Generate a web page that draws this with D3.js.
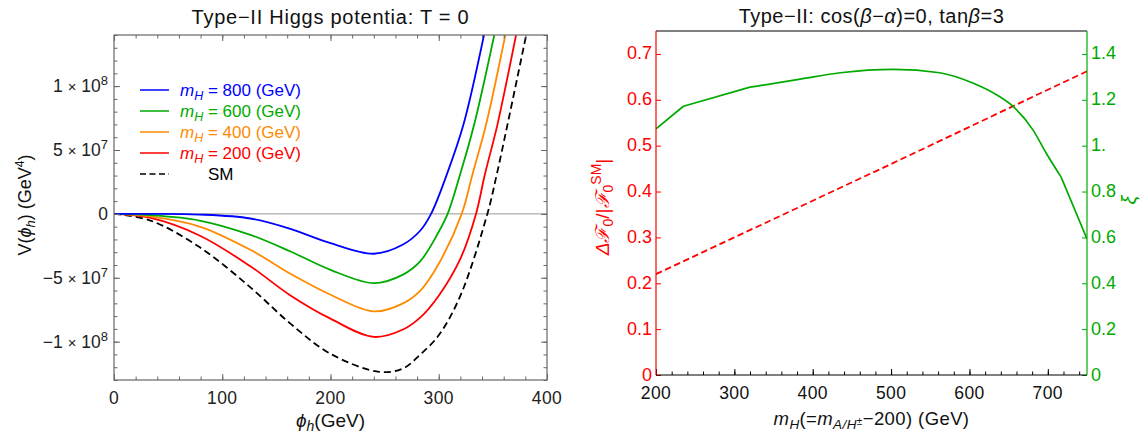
<!DOCTYPE html>
<meta charset="utf-8">
<style>
body { margin: 0; background: #fff; }
text { font-family: "Liberation Sans", Arial, sans-serif; }
.axis path { display: none; }
</style>
<svg id="chart" width="1148" height="434"></svg>
<script src="https://cdn.jsdelivr.net/npm/d3@7"></script>
<script>

// ---- left panel: V(phi_h), values in units of 1e7 GeV^4
var phiBlue   = [0, 33, 79, 126, 163, 200, 240, 267, 283, 292.9, 307.3, 322.7, 341.8];
var vBlue     = [0, 0, -0.05, -0.36, -1.17, -2.29, -3.12, -2.4, -1.3, 0, 3.05, 6.95, 14];
var phiGreen  = [0, 33, 79, 126, 163, 200, 240, 267, 283, 300, 308.2, 319.6, 332.6, 351.3];
var vGreen    = [0, -0.1, -0.52, -1.64, -2.94, -4.38, -5.42, -4.75, -3.7, -1.4, 0, 3.05, 6.95, 14];
var phiOrange = [0, 33, 79, 126, 163, 200, 240, 267, 283, 300, 321.2, 331, 343.6, 361.5];
var vOrange   = [0, -0.2, -0.99, -2.81, -4.69, -6.33, -7.63, -7.0, -6.0, -3.9, 0, 3.05, 6.95, 14];
var phiRed    = [0, 33, 79, 126, 163, 200, 240, 267, 283, 300, 320, 334.4, 342.5, 354.1, 371.4];
var vRed      = [0, -0.3, -1.69, -4.1, -6.38, -8.2, -9.63, -9.05, -8.1, -6.4, -3.5, 0, 3.05, 6.95, 14];
var phiSM     = [0, 33, 79, 126, 163, 200, 245, 267, 283, 300, 320, 344.9, 353.5, 363.4, 380.8];
var vSM       = [0, -0.5, -2.6, -5.75, -8.59, -10.95, -12.36, -12.1, -11.0, -9.5, -6.4, 0, 3.05, 6.95, 14];

var legendNames = ["800", "600", "400", "200", "SM"];
var vTicks = [-10, -5, 0, 5, 10];
var vTickMant = ["\u22121", "\u22125", "0", "5", "1"];
var vTickExp = ["8", "7", "", "7", "8"];
var phiTicks = [0, 100, 200, 300, 400];

// ---- right panel
var massGrid = [200, 300, 400, 500, 600, 700, 750];
var deltaF = [0.220, 0.300, 0.380, 0.460, 0.541, 0.622, 0.662];
var xiMass = [200, 235, 320, 384, 435, 503, 562, 605, 635, 656, 681, 698, 717, 750];
var xiValues = [1.073, 1.172, 1.255, 1.290, 1.318, 1.333, 1.318, 1.272, 1.221, 1.170, 1.069, 0.967, 0.863, 0.593];
var massTicks = [200, 300, 400, 500, 600, 700];
var dfTicks = [0, 0.1, 0.2, 0.3, 0.4, 0.5, 0.6, 0.7];
var xiTicks = [0, 0.2, 0.4, 0.6, 0.8, 1.0, 1.2, 1.4];
var xiTickLabels = ["0", "0.2", "0.4", "0.6", "0.8", "1.", "1.2", "1.4"];

var svg = d3.select("#chart");

function rich(sel, parts) {
  parts.forEach(function(p) {
    var t = sel.append("tspan").text(p.t);
    if (p.i) t.style("font-style", "italic");
    if (p.dy) t.attr("dy", p.dy);
    if (p.fs) t.attr("font-size", p.fs);
  });
  return sel;
}

// ================= LEFT =================
var xL = d3.scaleLinear().domain([0, 400]).range([114, 547]);
var yL = d3.scaleLinear().domain([-13, 14]).range([380, 35]);
var frameL = "#666";

svg.append("clipPath").attr("id", "clipL").append("rect")
    .attr("x", xL(0)).attr("y", yL(14))
    .attr("width", xL(400) - xL(0)).attr("height", yL(-13) - yL(14));

// zero axis
svg.append("line")
    .attr("x1", xL(0)).attr("x2", xL(400))
    .attr("y1", yL(0)).attr("y2", yL(0))
    .attr("stroke", "#999").attr("stroke-width", 1);

var series = [
  {phi: phiSM, v: vSM, color: "#000", dash: "7,4"},
  {phi: phiRed, v: vRed, color: "#ff0000"},
  {phi: phiOrange, v: vOrange, color: "#ff8a00"},
  {phi: phiGreen, v: vGreen, color: "#00aa00"},
  {phi: phiBlue, v: vBlue, color: "#0000ff"}
];

var lineL = d3.line()
    .x(function(d) { return xL(d[0]); })
    .y(function(d) { return yL(d[1]); })
    .curve(d3.curveCatmullRom.alpha(0.5));

svg.append("g").attr("clip-path", "url(#clipL)")
  .selectAll("path")
  .data(series)
  .enter()
  .append("path")
    .attr("fill", "none")
    .attr("stroke", function(d) { return d.color; })
    .attr("stroke-width", 1.8)
    .attr("stroke-dasharray", function(d) { return d.dash || null; })
    .attr("d", function(s) {
      return lineL(s.phi.map(function(p, i) { return [p, s.v[i]]; }));
    });

// ticks (inward, all four sides)
function ticks(axis, tr, color) {
  var g = svg.append("g").attr("class", "axis").attr("transform", tr).call(axis);
  g.selectAll("line").attr("stroke", color);
  return g;
}
var phiMinor = d3.range(0, 401, 20);
var vMinor = d3.range(-13, 14.1, 1);
ticks(d3.axisBottom(xL).tickValues(phiTicks).tickSize(-6).tickFormat(""), "translate(0," + yL(-13) + ")", frameL);
ticks(d3.axisBottom(xL).tickValues(phiMinor).tickSize(-3.5).tickFormat(""), "translate(0," + yL(-13) + ")", frameL);
ticks(d3.axisTop(xL).tickValues(phiTicks).tickSize(-6).tickFormat(""), "translate(0," + yL(14) + ")", frameL);
ticks(d3.axisTop(xL).tickValues(phiMinor).tickSize(-3.5).tickFormat(""), "translate(0," + yL(14) + ")", frameL);
ticks(d3.axisLeft(yL).tickValues(vTicks).tickSize(-6).tickFormat(""), "translate(" + xL(0) + ",0)", frameL);
ticks(d3.axisLeft(yL).tickValues(vMinor).tickSize(-3.5).tickFormat(""), "translate(" + xL(0) + ",0)", frameL);
ticks(d3.axisRight(yL).tickValues(vTicks).tickSize(-6).tickFormat(""), "translate(" + xL(400) + ",0)", frameL);
ticks(d3.axisRight(yL).tickValues(vMinor).tickSize(-3.5).tickFormat(""), "translate(" + xL(400) + ",0)", frameL);

svg.append("rect")
    .attr("x", xL(0)).attr("y", yL(14))
    .attr("width", xL(400) - xL(0)).attr("height", yL(-13) - yL(14))
    .attr("fill", "none").attr("stroke", frameL).attr("stroke-width", 1.2);

// tick labels
svg.append("g").selectAll("text")
  .data(phiTicks).enter().append("text")
    .attr("x", function(d) { return xL(d); })
    .attr("y", yL(-13) + 24)
    .attr("text-anchor", "middle")
    .attr("font-size", 17.5)
    .attr("letter-spacing", 0.4)
    .attr("fill", "#222")
    .text(function(d) { return d; });

vTicks.forEach(function(v, i) {
  var t = svg.append("text")
      .attr("x", xL(0) - 6)
      .attr("y", yL(v) + 6)
      .attr("text-anchor", "end")
      .attr("font-size", 17.5)
      .attr("fill", "#222");
  if (vTickExp[i] === "") { t.text(vTickMant[i]); return; }
  rich(t, [{t: vTickMant[i] + " "}, {t: "\u00d7", fs: 15}, {t: " 10"},
           {t: vTickExp[i], fs: 13, dy: -7}]);
});

// titles / labels
svg.append("text")
    .attr("x", (xL(0) + xL(400)) / 2).attr("y", 24)
    .attr("text-anchor", "middle").attr("font-size", 20).attr("fill", "#111")
    .attr("letter-spacing", 0.75)
    .text("Type\u2212II Higgs potentia: T = 0");

rich(svg.append("text")
    .attr("x", (xL(0) + xL(400)) / 2).attr("y", 427)
    .attr("text-anchor", "middle").attr("font-size", 19).attr("fill", "#111"),
  [{t: "\u03d5", i: true}, {t: "h", i: true, fs: 14, dy: 4}, {t: "(GeV)", dy: -4}]);

rich(svg.append("text")
    .attr("transform", "translate(31,205) rotate(-90)")
    .attr("text-anchor", "middle").attr("font-size", 18).attr("fill", "#111"),
  [{t: "V("}, {t: "\u03d5", i: true}, {t: "h", i: true, fs: 13, dy: 4},
   {t: ") (GeV", dy: -4}, {t: "4", fs: 12, dy: -7}, {t: ")", dy: 7}]);

// legend
var legendColors = ["#0000ff", "#00aa00", "#ff8a00", "#ff0000", "#000"];
var legend = svg.append("g").selectAll("g")
  .data(legendNames).enter().append("g")
    .attr("transform", function(d, i) { return "translate(0," + (90 + i * 21) + ")"; });
legend.append("line")
    .attr("x1", 140).attr("x2", 169)
    .attr("stroke", function(d, i) { return legendColors[i]; })
    .attr("stroke-width", 1.5)
    .attr("stroke-dasharray", function(d) { return d === "SM" ? "6,3.5" : null; });
legend.each(function(d, i) {
  var t = d3.select(this).append("text")
      .attr("y", 6).attr("font-size", 17)
      .attr("fill", legendColors[i]);
  if (d === "SM") { t.attr("x", 208).text("SM"); return; }
  t.attr("x", 180);
  rich(t, [{t: "m", i: true}, {t: "H", i: true, fs: 12.5, dy: 4}, {t: " = " + d + " (GeV)", dy: -4}]);
});

// ================= RIGHT =================
var xR = d3.scaleLinear().domain([200, 750]).range([656, 1087]);
var yRL = d3.scaleLinear().domain([0, 0.75]).range([375, 31]);
var yRR = d3.scaleLinear().domain([0, 1.5]).range([375, 31]);
var red = "#ff0000", green = "#00aa00";

svg.append("clipPath").attr("id", "clipR").append("rect")
    .attr("x", xR(200)).attr("y", yRL(0.75))
    .attr("width", xR(750) - xR(200)).attr("height", yRL(0) - yRL(0.75));

var gR = svg.append("g").attr("clip-path", "url(#clipR)");

gR.append("path")
    .datum(massGrid.map(function(m, i) { return [m, deltaF[i]]; }))
    .attr("fill", "none").attr("stroke", red).attr("stroke-width", 1.8)
    .attr("stroke-dasharray", "6.5,3.5")
    .attr("d", d3.line()
      .x(function(d) { return xR(d[0]); })
      .y(function(d) { return yRL(d[1]); }));

// xi: straight segments at the ends, smooth in the middle
var xiPts = xiMass.map(function(m, i) { return [m, xiValues[i]]; });
var xiLine = d3.line()
    .x(function(d) { return xR(d[0]); })
    .y(function(d) { return yRR(d[1]); });
[[xiPts.slice(0, 3), d3.curveLinear],
 [xiPts.slice(2, 13), d3.curveMonotoneX],
 [xiPts.slice(12), d3.curveLinear]].forEach(function(seg) {
  gR.append("path")
      .attr("fill", "none").attr("stroke", green).attr("stroke-width", 1.7)
      .attr("stroke-linejoin", "round")
      .attr("d", xiLine.curve(seg[1])(seg[0]));
});

ticks(d3.axisBottom(xR).tickValues(massTicks).tickSize(-6).tickFormat(""), "translate(0," + yRL(0) + ")", "#000");
ticks(d3.axisBottom(xR).tickValues(d3.range(200, 751, 20)).tickSize(-3.5).tickFormat(""), "translate(0," + yRL(0) + ")", "#000");
ticks(d3.axisLeft(yRL).tickValues(dfTicks).tickSize(-5).tickFormat(""), "translate(" + xR(200) + ",0)", red);
ticks(d3.axisRight(yRR).tickValues(xiTicks).tickSize(-5).tickFormat(""), "translate(" + xR(750) + ",0)", green);

// frame: top/bottom black, left red, right green
svg.append("line").attr("x1", xR(200)).attr("x2", xR(750)).attr("y1", yRL(0.75)).attr("y2", yRL(0.75))
    .attr("stroke", "#000").attr("stroke-width", 1.2);
svg.append("line").attr("x1", xR(200)).attr("x2", xR(750)).attr("y1", yRL(0)).attr("y2", yRL(0))
    .attr("stroke", "#000").attr("stroke-width", 1.2);
svg.append("line").attr("x1", xR(200)).attr("x2", xR(200)).attr("y1", yRL(0)).attr("y2", yRL(0.75))
    .attr("stroke", red).attr("stroke-width", 1.2);
svg.append("line").attr("x1", xR(750)).attr("x2", xR(750)).attr("y1", yRL(0)).attr("y2", yRL(0.75))
    .attr("stroke", green).attr("stroke-width", 1.2);

svg.append("g").selectAll("text")
  .data(massTicks).enter().append("text")
    .attr("x", function(d) { return xR(d); })
    .attr("y", yRL(0) + 24)
    .attr("text-anchor", "middle").attr("font-size", 17.5).attr("fill", "#111")
    .attr("letter-spacing", 0.4)
    .text(function(d) { return d; });

svg.append("g").selectAll("text")
  .data(dfTicks).enter().append("text")
    .attr("x", xR(200) - 4)
    .attr("y", function(d) { return yRL(d) + 5.5; })
    .attr("text-anchor", "end").attr("font-size", 18).attr("fill", red)
    .text(function(d) { return d === 0 ? "0" : d3.format(".1f")(d); });

svg.append("g").selectAll("text")
  .data(xiTicks).enter().append("text")
    .attr("x", xR(750) + 4)
    .attr("y", function(d) { return yRR(d) + 5.5; })
    .attr("text-anchor", "start").attr("font-size", 18).attr("fill", green)
    .text(function(d, i) { return xiTickLabels[i]; });

svg.append("text")
    .attr("x", (xR(200) + xR(750)) / 2).attr("y", 23)
    .attr("text-anchor", "middle").attr("font-size", 20).attr("fill", "#111")
    .attr("letter-spacing", 0.5)
    .call(rich, [{t: "Type\u2212II: cos("}, {t: "\u03b2", i: true}, {t: "\u2212"}, {t: "\u03b1", i: true},
                 {t: ")=0, tan"}, {t: "\u03b2", i: true}, {t: "=3"}]);

rich(svg.append("text")
    .attr("x", (xR(200) + xR(750)) / 2).attr("y", 425)
    .attr("text-anchor", "middle").attr("font-size", 18.5).attr("fill", "#111")
    .attr("letter-spacing", 0.4),
  [{t: "m", i: true}, {t: "H", i: true, fs: 13.5, dy: 4}, {t: "(=", dy: -4},
   {t: "m", i: true}, {t: "A/H", i: true, fs: 13.5, dy: 4}, {t: "\u00b1", fs: 10, dy: -4},
   {t: "\u2212200) (GeV)", dy: 0}]);

rich(svg.append("text")
    .attr("transform", "translate(609,207) rotate(-90)")
    .attr("text-anchor", "middle").attr("font-size", 19).attr("fill", red),
  [{t: "\u0394\u2131", i: true}, {t: "0", fs: 14, dy: 4}, {t: "/|", dy: -4},
   {t: "\u2131", i: true}, {t: "0", fs: 14, dy: 4}, {t: "SM", fs: 14, dy: -12}, {t: "|", dy: 8}]);

svg.append("text")
    .attr("transform", "translate(1136,200) rotate(-90)")
    .attr("text-anchor", "middle").attr("font-size", 20).attr("fill", green)
    .style("font-style", "italic")
    .text("\u03be");

</script>
